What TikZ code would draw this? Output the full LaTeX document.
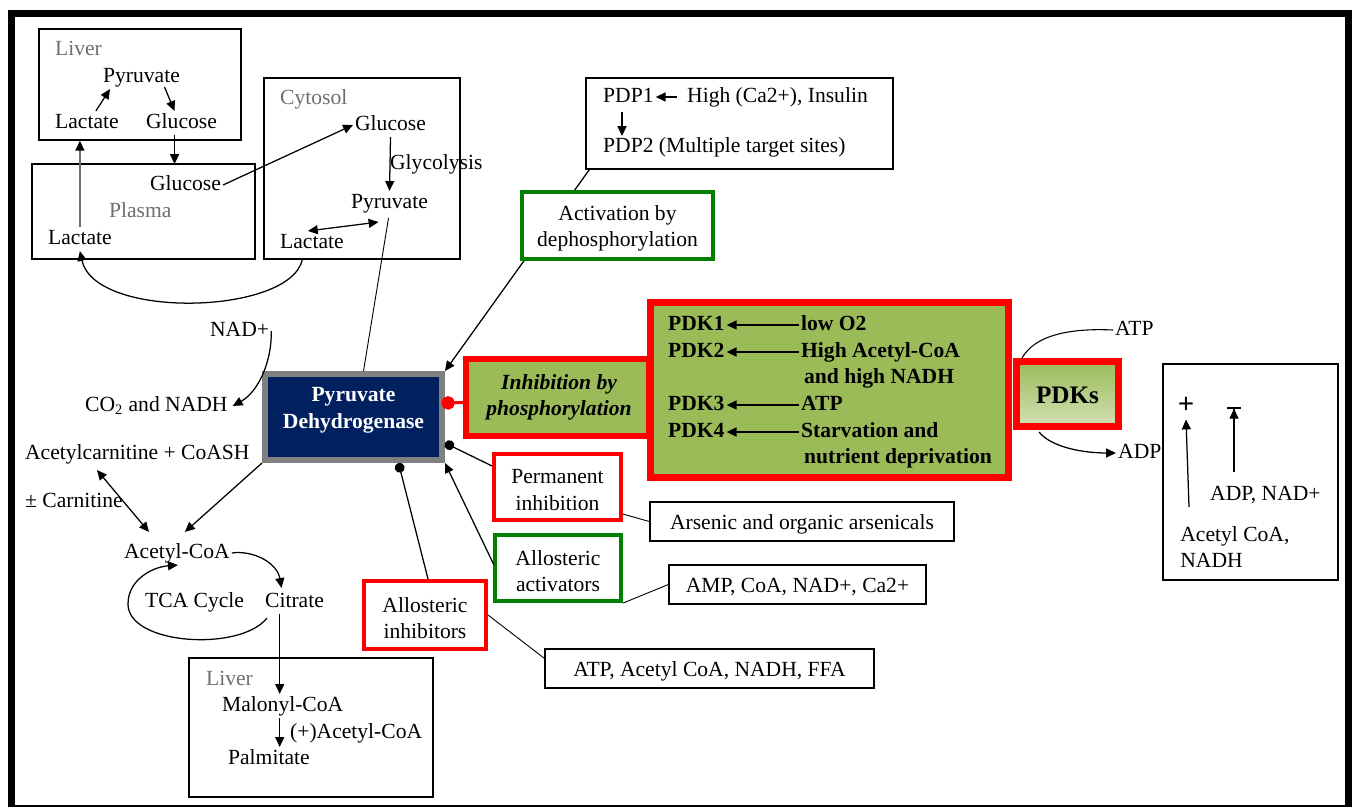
\documentclass[tikz,border=0pt]{standalone}
\usepackage{fontspec}
\setmainfont{Liberation Serif}
\usepackage{tikz}
\usetikzlibrary{arrows.meta, calc, fit, positioning}

\definecolor{olivebox}{RGB}{155,187,89}
\definecolor{navybox}{RGB}{0,32,96}
\definecolor{dkgreen}{RGB}{0,128,0}
\definecolor{lblgray}{RGB}{110,110,110}

\tikzset{
  ft/.style={font=\fontsize{12}{14.5}\selectfont},
  txt/.style={ft, inner sep=1pt, text height=8.4pt, text depth=2.6pt},
  lbl/.style={txt, text=lblgray},
  mtxt/.style={ft, align=center},
  pdktxt/.style={font=\bfseries\fontsize{12}{14.5}\selectfont, inner sep=1pt, text height=8.4pt, text depth=2.6pt},
  box/.style={draw, line width=0.8pt, fill=white, inner sep=0pt},
  redbox/.style={draw=red, line width=2.3pt, fill=white, inner sep=0pt},
  grnbox/.style={draw=dkgreen, line width=2.3pt, fill=white, inner sep=0pt},
  arr/.style={-{Triangle[length=5.5pt, width=5pt]}, line width=0.7pt},
  dbl/.style={{Triangle[length=5.5pt, width=5pt]}-{Triangle[length=5.5pt, width=5pt]}, line width=0.7pt},
  dotend/.style={-{Circle[length=5.5pt]}, line width=0.7pt},
  link/.style={line width=0.5pt}
}

\begin{document}
\begin{tikzpicture}[x=0.556pt, y=-0.556pt]
\useasboundingbox (0, 0) rectangle (1352, 806);
\begin{scope}
\clip (0, 0) rectangle (1352, 806);
\draw[line width=3.9pt] (11.5, 13.5) rectangle (1348.5, 808);
\end{scope}

% liver, plasma, cytosol
\node[box, fill=none, fit={(39, 29) (241, 140)}] (liverT) {};
\node[lbl, anchor=west] (liverTname) at (53, 50) {Liver};
\node[txt, anchor=west] (pyrL) at (101, 77) {Pyruvate};
\node[txt, anchor=west] (lacL) at (53, 123) {Lactate};
\node[txt, anchor=west] (gluL) at (144, 123) {Glucose};

\node[box, fill=none, fit={(32, 164) (255, 259)}] (plasma) {};
\node[txt, anchor=west] (gluP) at (148, 185) {Glucose};
\node[lbl, anchor=west] (plasmaname) at (107, 212) {Plasma};
\node[txt, anchor=west] (lacP) at (46, 239) {Lactate};

\node[box, fill=none, fit={(264, 78) (460, 259)}] (cyto) {};
\node[lbl, anchor=west] (cytoname) at (278, 99) {Cytosol};
\node[txt, anchor=west] (gluC) at (353, 125) {Glucose};
\node[txt, anchor=west] (glyc) at (388, 164) {Glycolysis};
\node[txt, anchor=west] (pyrC) at (349, 203) {Pyruvate};
\node[txt, anchor=west] (lacC) at (278, 243) {Lactate};

\draw[arr] ($(lacL.north)+(9, 0)$) -- ($(pyrL.south west)+(9, 0)$);
\draw[arr] ($(pyrL.south)+(23, -2)$) -- ($(gluL.north)+(-7, 0)$);
\draw[arr] ($(gluL.south)+(-7, 0)$) -- ++(0, 29);
\draw[-{Triangle[length=5.5pt, width=5pt, black]}, line width=0.7pt, draw=lblgray] (lacP.north) -- (lacP.north |- liverT.south);
\draw[arr] (gluP.east) -- (gluC.west);
\draw[arr] (gluC.south) -- (pyrC.north);
\draw[dbl] ($(lacC.north)+(-4, 0)$) -- ($(pyrC.south)+(-11, 7)$);
\draw[arr] ($(cyto.south west)+(39, 0)$) .. controls (290, 315) and (95, 320) .. (lacP.south);

% pyruvate dehydrogenase
\node[draw=gray, line width=3.3pt, fill=navybox, inner sep=0pt, fit={(265, 374) (442, 460)}] (pdh) {};
\node[font=\bfseries\fontsize{12}{15}\selectfont, text=white, align=center] (pdhname) at ($(pdh.center)+(0, -7)$) {Pyruvate\\Dehydrogenase};
\draw[link] ($(pyrC.south)+(-1, 3)$) -- ($(pdh.north)+(10, 0)$);

% phosphatases
\node[box, fit={(586, 78) (893, 169)}] (pdp) {};
\node[txt, anchor=west] (pdp1) at (601, 97) {PDP1};
\node[txt, anchor=west] (pdpsig) at (685, 97) {High (Ca2+), Insulin};
\node[txt, anchor=west] (pdp2) at (601, 147) {PDP2 (Multiple target sites)};
\draw[arr] ($(pdpsig.west)+(-8, 0)$) -- (pdp1.east);
\draw[arr] ($(pdp1.south west)+(21, 3)$) -- ++(0, 24);
\draw[arr] ($(pdp.south west)+(4, 0)$) -- (pdh.north east);
\node[grnbox, fit={(522, 192) (713, 259)}] (act) {};
\node[mtxt] (actname) at ($(act.center)+(0, 3)$) {Activation by\\dephosphorylation};

% kinases
\node[redbox, line width=3.3pt, fill=olivebox, fit={(466, 359) (649, 436)}] (inh) {};
\node[font=\bfseries\itshape\fontsize{12}{14.5}\selectfont, align=center] (inhname) at (559, 397) {Inhibition by\\phosphorylation};
\draw[red, line width=1.7pt, -{Circle[length=7.5pt]}, shorten >=-2pt] ($(inh.west)+(0, 5)$) -- ($(pdh.east)+(0, -14)$);

\node[redbox, line width=3.9pt, fill=olivebox, fit={(650.5, 302.5) (1008.5, 477.5)}] (pdk) {};
\node[pdktxt, anchor=west] (pdk1) at (666, 325) {PDK1};
\node[pdktxt, anchor=west] (pdk2) at (666, 352) {PDK2};
\node[pdktxt, anchor=west] (pdk3) at (666, 405) {PDK3};
\node[pdktxt, anchor=west] (pdk4) at (666, 432) {PDK4};
\node[pdktxt, anchor=west] (lowo) at (799, 325) {low O2};
\node[pdktxt, anchor=west] (hiac) at (799, 352) {High Acetyl-CoA};
\node[pdktxt, anchor=west] (hinadh) at (802, 378) {and high NADH};
\node[pdktxt, anchor=west] (atpk) at (799, 405) {ATP};
\node[pdktxt, anchor=west] (starv) at (799, 432) {Starvation and};
\node[pdktxt, anchor=west] (nutr) at (802, 458) {nutrient deprivation};
\foreach \a/\b in {lowo/pdk1, hiac/pdk2, atpk/pdk3, starv/pdk4}
  \draw[arr] (\a.west) -- (\b.east);

\node[redbox, line width=3.9pt, top color=olivebox, bottom color=olivebox!45, fit={(1016.5, 361.5) (1118.5, 426.5)}] (pdks) {};
\node[font=\bfseries\fontsize{14}{16}\selectfont] (pdksname) at ($(pdks.center)+(0, 1)$) {PDKs};
\node[txt, anchor=west] (atp) at (1113, 330) {ATP};
\node[txt, anchor=west] (adp) at (1116, 453) {ADP};
\draw[link, line width=0.6pt] ($(pdks.north west)+(9, 0)$) .. controls (1035, 335) and (1070, 328) .. (atp.west);
\draw[arr] ($(pdks.south west)+(26, 2)$) .. controls (1052, 448) and (1085, 453) .. (adp.west);

\node[box, fit={(1163, 364) (1338, 580)}] (rbox) {};
\node[font=\bfseries\fontsize{16}{16}\selectfont, inner sep=0pt] (plus) at (1186, 405) {+};
\node[txt, anchor=west] (adpnad) at (1208, 495) {ADP, NAD+};
\node[mtxt, align=left, anchor=north west] (acnadh) at (1174, 520) {Acetyl CoA,\\NADH};
\draw[arr] ($(acnadh.north west)+(15, -13)$) -- ($(plus.south)+(0, 6)$);
\draw[-{Triangle[length=5.5pt, width=5pt] Bar[width=8pt, line width=1pt]}, line width=0.7pt] ($(adpnad.north west)+(26, -11)$) -- ++(0, -65);

% left side
\node[txt, anchor=west] (nad) at (208, 331) {NAD+};
\node[txt, anchor=west] (co2) at (83, 406) {CO\textsubscript{2} and NADH};
\node[txt, anchor=west] (acarn) at (23, 454) {Acetylcarnitine + CoASH};
\node[txt, anchor=west] (carn) at (23, 502) {± Carnitine};
\node[txt, anchor=west] (acoa) at (122, 553) {Acetyl-CoA};
\draw[arr] (nad.east) .. controls (272, 362) and (258, 392) .. ($(co2.east)+(3, 0)$);
\draw[dbl] ($(acarn.south west)+(74, 4)$) -- ($(acoa.north west)+(27, -9)$);
\draw[arr] (pdh.south west) -- ($(acoa.north)+(8, -9)$);

\node[txt, anchor=west] (tca) at (143, 602) {TCA Cycle};
\node[txt, anchor=west] (cit) at (263, 602) {Citrate};
\draw[arr] (acoa.east) .. controls (252, 550) and (277, 562) .. ($(cit.north)+(-13, -2)$);
\draw[arr] ($(cit.south west)+(4, 4)$) .. controls (240, 652) and (128, 645) .. (128, 604) .. controls (128, 580) and (152, 567) .. ($(acoa.south)+(1, 0)$);

\node[box, fill=none, fit={(189, 658) (433, 797)}] (liverB) {};
\node[lbl, anchor=west] (liverBname) at (204, 680) {Liver};
\node[txt, anchor=west] (malo) at (220, 706) {Malonyl-CoA};
\node[txt, anchor=west] (plusac) at (288, 733) {(+)Acetyl-CoA};
\node[txt, anchor=west] (palm) at (226, 759) {Palmitate};
\coordinate (malotop) at ($(malo.north)+(-3, 0)$);
\coordinate (malobot) at ($(malo.south)+(-3, 0)$);
\draw[arr] (malotop |- cit.south) -- (malotop);
\draw[arr] (malobot) -- (malobot |- palm.north);

% regulators
\node[redbox, fit={(494, 454) (621, 520)}] (perm) {};
\node[mtxt] (permname) at ($(perm.center)+(0, 3)$) {Permanent\\inhibition};
\node[box, fit={(650, 502) (954, 541)}] (arsen) {};
\node[txt] (arsenname) at ($(arsen.center)+(0, 3)$) {Arsenic and organic arsenicals};
\node[grnbox, fit={(495, 535) (621, 601)}] (alloact) {};
\node[mtxt] (alloactname) at ($(alloact.center)+(0, 3)$) {Allosteric\\activators};
\node[box, fit={(669, 565) (926, 604)}] (amp) {};
\node[txt] (ampname) at ($(amp.center)+(0, 3)$) {AMP, CoA, NAD+, Ca2+};
\node[redbox, fit={(364, 581) (486, 649)}] (alloinh) {};
\node[mtxt] (alloinhname) at ($(alloinh.center)+(0, 3)$) {Allosteric\\inhibitors};
\node[box, fit={(545, 649) (874, 688)}] (atpbox) {};
\node[txt] (atpboxname) at ($(atpbox.center)+(0, 3)$) {ATP, Acetyl CoA, NADH, FFA};

\draw[dotend] ($(perm.north west)+(0, 14)$) -- ($(pdh.south east)+(0, -20)$);
\draw[link] ($(perm.south east)+(0, -8)$) -- (arsen.west);
\draw[arr] ($(alloact.north west)+(1, 32)$) -- (pdh.south east);
\draw[link] (alloact.south east) -- (amp.west);
\draw[dotend] ($(alloinh.north)+(3, 0)$) -- ($(pdh.south)+(45, 0)$);
\draw[link] (alloinh.east) -- ($(atpbox.north west)+(0, 10)$);
\end{tikzpicture}
\end{document}
